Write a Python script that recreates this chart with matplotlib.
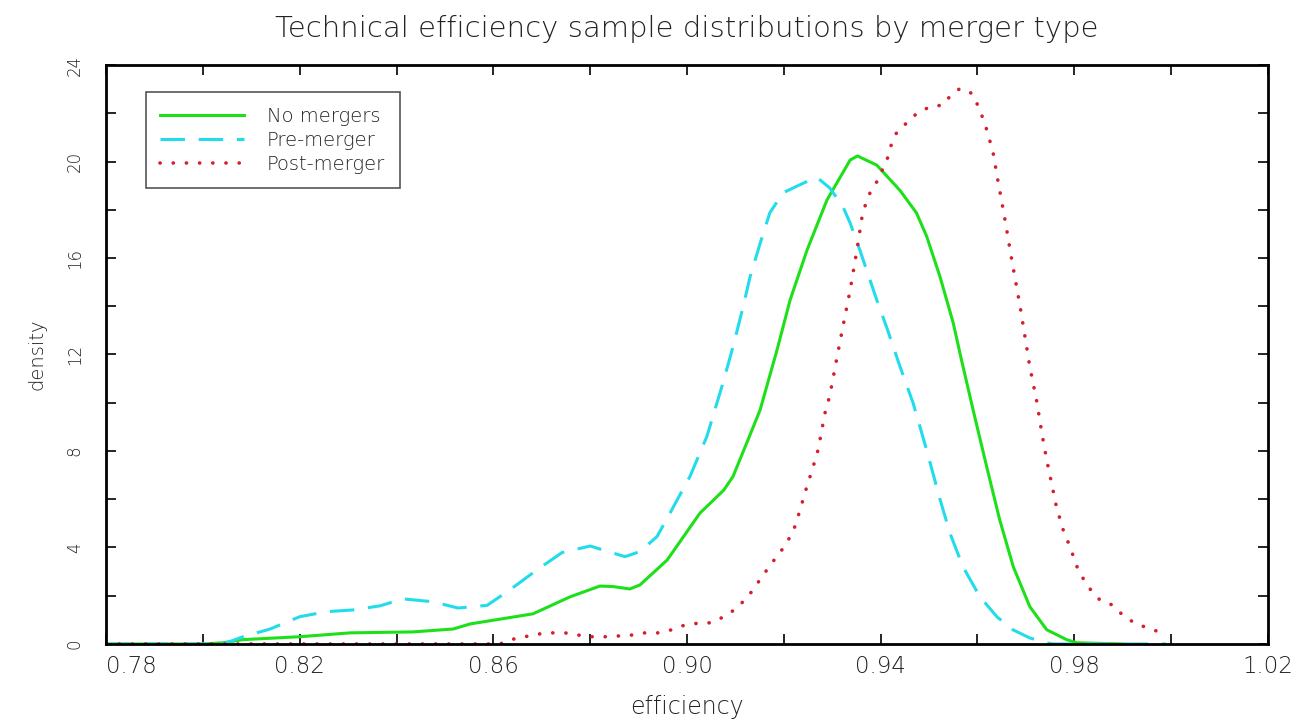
import matplotlib
matplotlib.use('Agg')
import matplotlib.pyplot as plt

# No mergers (solid green)
no_x = [0.78, 0.80, 0.8042, 0.8083, 0.82, 0.8304, 0.8434, 0.8517, 0.8552, 0.8614,
        0.8682, 0.8758, 0.882, 0.8847, 0.8882, 0.8903, 0.8959, 0.9027, 0.9055, 0.9076,
        0.9095, 0.9109, 0.9126, 0.9151, 0.9186, 0.9213, 0.9248, 0.9289, 0.9337, 0.9352,
        0.9392, 0.944, 0.9474, 0.9495, 0.9523, 0.955, 0.9567, 0.9591, 0.9619, 0.9646,
        0.9674, 0.9708, 0.9743, 0.9784, 0.9805, 0.99]
no_y = [0, 0, 0.05, 0.18, 0.3, 0.46, 0.5, 0.62, 0.83, 1.03,
        1.25, 1.95, 2.4, 2.38, 2.28, 2.45, 3.48, 5.43, 5.97, 6.38,
        6.94, 7.63, 8.46, 9.7, 12.19, 14.26, 16.33, 18.4, 20.06, 20.23,
        19.85, 18.8, 17.87, 16.9, 15.2, 13.3, 11.77, 9.7, 7.35, 5.14,
        3.2, 1.55, 0.59, 0.18, 0.05, 0.0]

# Pre-merger (dashed cyan)
pre_x = [0.78, 0.8042, 0.8083, 0.8139, 0.82, 0.8256, 0.831, 0.8366, 0.8413, 0.8475,
         0.8527, 0.8587, 0.8634, 0.869, 0.8742, 0.88, 0.8847, 0.8872, 0.8903, 0.8938,
         0.8965, 0.9006, 0.9041, 0.9074, 0.9095, 0.9116, 0.913, 0.9151, 0.9171, 0.9198,
         0.924, 0.9268, 0.9295, 0.9322, 0.9337, 0.9357, 0.9392, 0.9412, 0.944, 0.9467,
         0.9495, 0.9523, 0.9543, 0.957, 0.9605, 0.964, 0.9673, 0.9708, 0.9743, 0.9756,
         0.999]
pre_y = [0, 0, 0.3, 0.62, 1.13, 1.34, 1.41, 1.58, 1.87, 1.75,
         1.49, 1.6, 2.24, 3.07, 3.79, 4.06, 3.77, 3.62, 3.83, 4.45,
         5.43, 6.94, 8.6, 10.8, 12.32, 13.98, 15.2, 16.6, 17.87, 18.7,
         19.1, 19.35, 18.9, 18.13, 17.45, 16.33, 14.26, 13.15, 11.5, 9.99,
         8.04, 5.97, 4.6, 3.2, 1.96, 1.13, 0.59, 0.25, 0.05, 0,
         0]

# Post-merger (dotted red)
post_x = [0.78, 0.8614, 0.8634, 0.8665, 0.8692, 0.8721, 0.8748, 0.8775, 0.8804, 0.8831,
          0.8857, 0.8886, 0.8913, 0.894, 0.8969, 0.8996, 0.9023, 0.9051, 0.9076, 0.9103,
          0.912, 0.9138, 0.9151, 0.9165, 0.918, 0.9196, 0.9209, 0.922, 0.9226, 0.9233,
          0.9244, 0.9257, 0.9269, 0.9275, 0.9285, 0.9295, 0.931, 0.9322, 0.9337, 0.9351,
          0.9363, 0.9378, 0.9392, 0.9413, 0.9423, 0.9434, 0.9454, 0.9475, 0.9502, 0.9529,
          0.9543, 0.9564, 0.9589, 0.9599, 0.9615, 0.9632, 0.9642, 0.9657, 0.9671, 0.9688,
          0.9708, 0.9722, 0.9733, 0.9743, 0.9753, 0.9763, 0.9777, 0.9791, 0.9808, 0.9828,
          0.9853, 0.9878, 0.99, 0.9925, 0.9952, 0.9981, 0.999]
post_y = [0, 0, 0.17, 0.3, 0.41, 0.46, 0.46, 0.37, 0.3, 0.3,
          0.33, 0.37, 0.46, 0.46, 0.59, 0.79, 0.86, 0.88, 1.13, 1.48,
          1.85, 2.27, 2.68, 3.07, 3.48, 3.9, 4.31, 4.68, 5.1, 5.51,
          6.29, 7.12, 7.9, 8.5, 9.57, 10.3, 11.9, 13.15, 14.67, 16.33,
          17.9, 18.7, 19.16, 20.06, 20.77, 21.24, 21.6, 22.0, 22.27, 22.34,
          22.7, 23.03, 22.82, 22.4, 21.6, 20.4, 19.23, 17.57, 15.9, 14.0,
          11.5, 10.1, 8.74, 7.63, 6.67, 5.69, 4.73, 4.03, 3.07, 2.38,
          1.82, 1.62, 1.2, 0.86, 0.66, 0.46, 0.35]

x_ticks = [0.78, 0.82, 0.86, 0.90, 0.94, 0.98, 1.02]
x_labels = ['0.78', '0.82', '0.86', '0.90', '0.94', '0.98', '1.02']
y_ticks = [0, 4, 8, 12, 16, 20, 24]

plt.rcParams['font.family'] = ['DejaVu Sans']
txt = '#222222'

fig = plt.figure(figsize=(13.01, 7.2), dpi=100)
ax = fig.add_axes([0.0815, 0.1056, 0.8931, 0.8041])

ax.plot(no_x, no_y, color='#1ee01a', lw=2.2, label='No mergers')
ax.plot(pre_x, pre_y, color='#22dcec', lw=2.2, linestyle=(0, (8, 4.5)), label='Pre-merger')
ax.plot(post_x, post_y, color='#d4202e', lw=2.6, linestyle=(0, (0.05, 3.6)),
        dash_capstyle='round', label='Post-merger')

ax.set_xlim(0.78, 1.02)
ax.set_ylim(0, 24)
ax.set_xticks(x_ticks, x_labels)
ax.set_xticks([0.80, 0.84, 0.88, 0.92, 0.96, 1.00], minor=True)
ax.set_yticks(y_ticks)
ax.set_yticks([2, 6, 10, 14, 18, 22], minor=True)
ax.get_xticklabels()[0].set_horizontalalignment('left')

ax.tick_params(which='both', direction='in', length=7, width=1.2, top=True, right=True)
ax.tick_params(axis='x', labelsize=16.5, pad=8, labelcolor=txt)
ax.tick_params(axis='y', labelsize=12, pad=16, labelcolor=txt)
for lbl in ax.get_xticklabels():
    lbl.set_fontweight('light')
for lbl in ax.get_yticklabels():
    lbl.set_rotation(90)
    lbl.set_verticalalignment('center')
    lbl.set_fontweight('light')
for s in ax.spines.values():
    s.set_linewidth(2)

ax.set_xlabel('efficiency', fontsize=17, fontweight='light', color=txt, labelpad=12)
ax.set_ylabel('density', fontsize=14, fontweight='light', color=txt, labelpad=14)
ax.set_title('Technical efficiency sample distributions by merger type',
             fontsize=21, fontweight='light', color=txt, pad=20)

leg = ax.legend(loc='upper left', bbox_to_anchor=(0.034, 0.953), fontsize=14,
                handlelength=4.3, handletextpad=1.2, labelspacing=0.25,
                borderpad=0.75, fancybox=False, framealpha=1, borderaxespad=0)
leg.get_frame().set_edgecolor('#555555')
leg.get_frame().set_linewidth(1.2)
for t in leg.get_texts():
    t.set_color(txt)
    t.set_fontweight('light')

fig.savefig('out.png', dpi=100)
